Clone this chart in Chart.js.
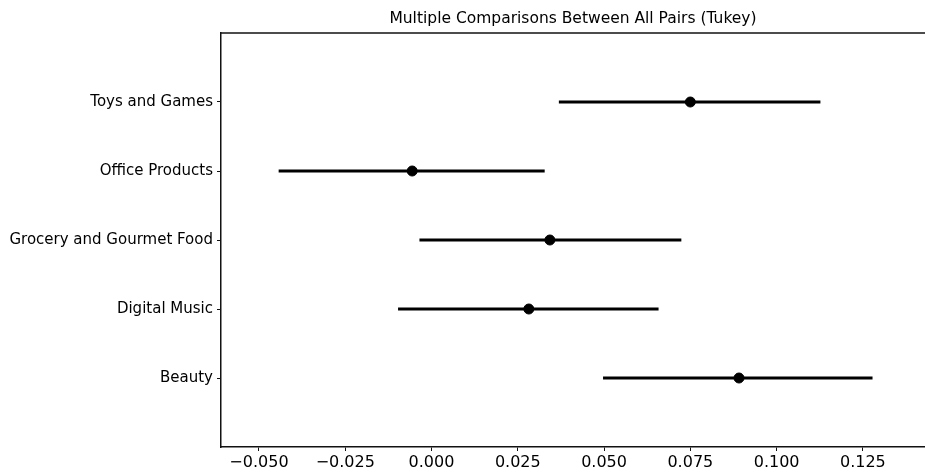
<!DOCTYPE html>
<html>
<head>
<meta charset="utf-8">
<title>Multiple Comparisons Between All Pairs (Tukey)</title>
<script src="https://cdn.jsdelivr.net/npm/chart.js@4.4.1/dist/chart.umd.min.js"></script>
<style>
    html, body { margin: 0; padding: 0; background: #fff; overflow: hidden; }
    #wrap { width: 925px; height: 475px; position: relative; }
</style>
</head>
<body>
<div id="wrap"><canvas id="grafico"></canvas></div>
<script>
// --- DATOS ---
// categorias de abajo hacia arriba (Beauty en 0, Toys en 4)
const categorias = ['Beauty', 'Digital Music', 'Grocery and Gourmet Food', 'Office Products', 'Toys and Games'];
const medias = [0.0891, 0.0282, 0.0343, -0.0056, 0.0750];
const limiteInferior = [0.0498, -0.0096, -0.0034, -0.0442, 0.0370];
const limiteSuperior = [0.1277, 0.0657, 0.0723, 0.0327, 0.1126];
const ticksX = [-0.050, -0.025, 0.000, 0.025, 0.050, 0.075, 0.100, 0.125];

const fuente = 'DejaVu Sans';

// --- PLUGIN: linea superior del marco ---
const bordeSuperior = {
    id: 'bordeSuperior',
    afterDraw(chart) {
        const { ctx, chartArea } = chart;
        ctx.save();
        ctx.strokeStyle = '#111';
        ctx.lineWidth = 1.5;
        ctx.beginPath();
        ctx.moveTo(chartArea.left, chartArea.top);
        ctx.lineTo(chartArea.right, chartArea.top);
        ctx.stroke();
        ctx.restore();
    }
};

function formatoX(v) {
    const s = Math.abs(v).toFixed(3);
    return v < -1e-9 ? '\u2212' + s : s;
}

const ctx = document.getElementById('grafico').getContext('2d');
new Chart(ctx, {
    data: {
        datasets: [
            {
                type: 'bar',
                label: 'Intervalo',
                data: categorias.map((c, i) => ({ x: [limiteInferior[i], limiteSuperior[i]], y: i })),
                backgroundColor: '#000',
                borderWidth: 0,
                barThickness: 2.5,
                order: 2
            },
            {
                type: 'scatter',
                label: 'Media',
                data: categorias.map((c, i) => ({ x: medias[i], y: i })),
                backgroundColor: '#000',
                borderColor: '#000',
                pointRadius: 5,
                order: 1
            }
        ]
    },
    options: {
        indexAxis: 'y',
        responsive: true,
        maintainAspectRatio: false,
        animation: false,
        layout: { padding: 0, autoPadding: false },
        plugins: {
            legend: { display: false },
            tooltip: { enabled: false },
            title: {
                display: true,
                fullSize: false,
                text: 'Multiple Comparisons Between All Pairs (Tukey)',
                color: '#000',
                font: { family: fuente, size: 15.5, weight: 'normal' },
                padding: { top: 9.7, bottom: 4.7 }
            }
        },
        scales: {
            x: {
                type: 'linear',
                min: -0.0610,
                max: 0.1430,
                afterBuildTicks: (scale) => { scale.ticks = ticksX.map(v => ({ value: v })); },
                afterFit: (scale) => {
                    scale.height = 28;
                    scale.paddingLeft = 0;
                    scale.paddingRight = 0;
                },
                ticks: {
                    color: '#000',
                    padding: 2,
                    maxRotation: 0,
                    font: { family: fuente, size: 16 },
                    callback: (v) => formatoX(v)
                },
                grid: { drawOnChartArea: false, drawTicks: true, tickLength: 4, color: '#111', lineWidth: 1 },
                border: { display: true, color: '#111', width: 1.5 }
            },
            y: {
                type: 'linear',
                min: -1,
                max: 5,
                offset: false,
                afterBuildTicks: (scale) => { scale.ticks = categorias.map((c, i) => ({ value: i })); },
                afterFit: (scale) => {
                    scale.width = 221;
                    scale.paddingTop = 0;
                    scale.paddingBottom = 0;
                },
                ticks: {
                    color: '#000',
                    padding: 4,
                    font: { family: fuente, size: 15 },
                    callback: (v) => categorias[v]
                },
                grid: { offset: false, drawOnChartArea: false, drawTicks: true, tickLength: 4, color: '#111', lineWidth: 1 },
                border: { display: true, color: '#111', width: 1.5 }
            }
        }
    },
    plugins: [bordeSuperior]
});
</script>
</body>
</html>
